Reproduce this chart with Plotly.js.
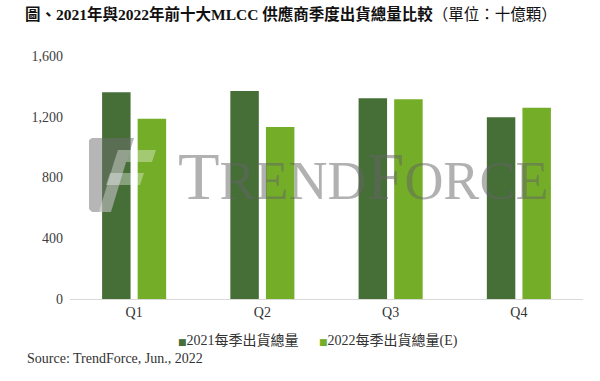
<!DOCTYPE html>
<html>
<head>
<meta charset="utf-8">
<script src="https://cdn.plot.ly/plotly-3.0.1.min.js"></script>
<style>html,body{margin:0;padding:0;background:#fff}#chart{width:600px;height:381px}</style>
</head>
<body>
<div id="chart"></div>
<script>
const categories = ["Q1", "Q2", "Q3", "Q4"];
const series2021 = [1361, 1370, 1321, 1196];
const series2022 = [1187, 1133, 1315, 1260];
const seriesNames = ["2021每季出貨總量", "2022每季出貨總量(E)"];
const seriesColors = ["#456f37", "#74ad28"];
const yTickVals = [0, 400, 800, 1200, 1600];
const yTickText = ["0", "400", "800", "1,200", "1,600"];

const SERIF = "'Liberation Serif', 'Times New Roman', 'Noto Sans CJK TC', serif";
const W = 600, H = 381, L = 70, R = 17, T = 56, B = 82;
const pw = W - L - R, ph = H - T - B;
function px(x){ return (x - L) / pw; }
function py(y){ return (H - B - y) / ph; }
function pathPx(pts){
  return pts.map((p,i)=> (i? 'L':'M') + px(p[0]).toFixed(4) + ',' + py(p[1]).toFixed(4)).join(' ') + ' Z';
}

const traces = [
  {type:'bar', name: seriesNames[0], x: categories, y: series2021, marker:{color: seriesColors[0]}},
  {type:'bar', name: seriesNames[1], x: categories, y: series2022, marker:{color: seriesColors[1]}}
];

function legendText(i){
  return '<span style="color:' + seriesColors[i] + ';font-family:DejaVu Sans;font-size:9px">■</span>' + seriesNames[i];
}

const layout = {
  width: W, height: H,
  margin: {l: L, r: R, t: T, b: B},
  paper_bgcolor: '#fff', plot_bgcolor: '#fff',
  barmode: 'group', bargap: 0.445, bargroupgap: 0.2,
  font: {family: SERIF, size: 14, color: '#404040'},
  title: {
    text: '<b>圖、2021年與2022年前十大MLCC 供應商季度出貨總量比較</b>（單位：十億顆）',
    x: 25/600, xanchor: 'left', xref: 'container',
    y: 1 - 15/381, yanchor: 'middle', yref: 'container',
    font: {family: SERIF, size: 15.5, color: '#111'}
  },
  xaxis: {
    showgrid: false, zeroline: false, showline: true, linecolor: '#d9d9d9', linewidth: 1,
    ticks: '', tickfont: {family: SERIF, size: 14, color: '#333'}, fixedrange: true
  },
  yaxis: {
    range: [0, 1600], tickvals: yTickVals, ticktext: yTickText,
    showgrid: false, zeroline: false, showline: false, ticks: '',
    ticklabelstandoff: 6,
    tickfont: {family: SERIF, size: 14, color: '#404040'}, fixedrange: true
  },
  showlegend: false,
  shapes: [
    {type:'path', xref:'paper', yref:'paper', layer:'above', line:{width:0},
     fillcolor:'rgba(110,110,110,0.5)',
     path: pathPx([[89,140],[92,138],[134,138],[111,212],[92,212],[89,209]])},
    {type:'path', xref:'paper', yref:'paper', layer:'above', line:{width:0},
     fillcolor:'rgba(255,255,255,0.35)',
     path: pathPx([[118,150],[156,150],[152,162],[114,162]])},
    {type:'path', xref:'paper', yref:'paper', layer:'above', line:{width:0},
     fillcolor:'rgba(255,255,255,0.35)',
     path: pathPx([[110,173],[144,173],[140,185],[106,185]])},
    {type:'path', xref:'paper', yref:'paper', layer:'above', line:{width:0},
     fillcolor:'rgba(255,255,255,0.35)',
     path: pathPx([[114,162],[126,162],[111,212],[99,212]])}
  ],
  annotations: [
    {xref:'paper', yref:'paper', x: px(176), y: py(203), xanchor:'left', yanchor:'bottom',
     showarrow:false, yshift: -13,
     text:'<span style="font-size:68px">T</span>REND<span style="font-size:68px">F</span>ORCE',
     font:{family: SERIF, size: 54, color:'rgba(100,100,100,0.5)'}},
    {xref:'paper', yref:'paper', x: px(176), y: py(340), xanchor:'left', yanchor:'middle',
     showarrow:false, text: legendText(0),
     font:{family: SERIF, size: 14, color:'#333'}},
    {xref:'paper', yref:'paper', x: px(317), y: py(340), xanchor:'left', yanchor:'middle',
     showarrow:false, text: legendText(1),
     font:{family: SERIF, size: 14, color:'#333'}},
    {xref:'paper', yref:'paper', x: px(25), y: py(358), xanchor:'left', yanchor:'middle',
     showarrow:false, text:'Source: TrendForce, Jun., 2022',
     font:{family: SERIF, size: 14, color:'#333'}}
  ]
};

Plotly.newPlot('chart', traces, layout, {displayModeBar: false, staticPlot: true});
</script>
</body>
</html>
